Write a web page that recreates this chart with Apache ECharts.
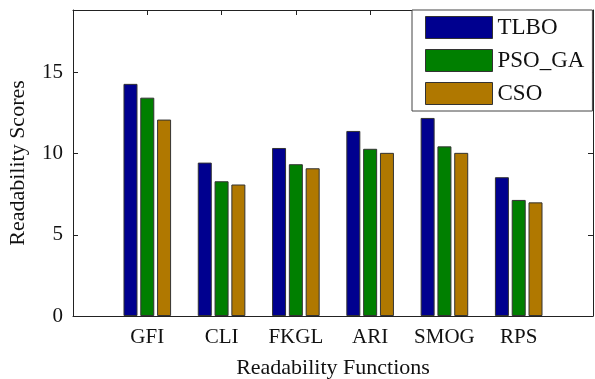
<!DOCTYPE html>
<html>
<head>
<meta charset="utf-8">
<script src="https://cdn.jsdelivr.net/npm/echarts@6/dist/echarts.min.js"></script>
<style>
  html, body { margin: 0; padding: 0; background: #fff; }
  #chart { width: 595px; height: 379px; }
</style>
</head>
<body>
<div id="chart"></div>
<script>
const categories = ['GFI', 'CLI', 'FKGL', 'ARI', 'SMOG', 'RPS']
const tlbo = [14.3, 9.45, 10.35, 11.4, 12.2, 8.55]
const psoGa = [13.45, 8.3, 9.35, 10.3, 10.45, 7.15]
const cso = [12.1, 8.1, 9.1, 10.05, 10.05, 7.0]
const yTicks = [0, 5, 10, 15]

// pad with empty slots so the axis runs from 0 to 7 like the original
const xData = [''].concat(categories, [''])
const pad = arr => [null].concat(arr, [null])

const font = 'Liberation Serif'
const axisColor = '#222'

const myChart = echarts.init(document.getElementById('chart'))

const barBase = {
    type: 'bar',
    barWidth: 14,
    barGap: '20%',
    itemStyle: { borderColor: '#333', borderWidth: 1 },
    animation: false
}

const xTick = {
    show: true,
    inside: true,
    length: 5,
    interval: (i) => i > 0 && i < xData.length - 1,
    lineStyle: { color: axisColor }
}
const yTick = { show: true, inside: true, length: 5, lineStyle: { color: axisColor } }

const option = {
    backgroundColor: '#fff',
    textStyle: { fontFamily: font },
    grid: { left: 73, top: 10, right: 2, bottom: 63, containLabel: false, outerBoundsMode: 'none' },
    legend: {
        orient: 'vertical',
        left: 412,
        top: 10,
        padding: [6, 8, 6, 13],
        itemWidth: 67,
        itemHeight: 22,
        itemGap: 10,
        icon: 'rect',
        borderColor: '#444',
        borderWidth: 1,
        borderRadius: 0,
        backgroundColor: '#fff',
        textStyle: { fontFamily: font, fontSize: 23, color: '#111' },
        itemStyle: { borderColor: '#333', borderWidth: 1 },
        data: ['TLBO', 'PSO_GA', 'CSO']
    },
    xAxis: [
        {
            type: 'category',
            data: xData,
            boundaryGap: false,
            axisLine: { onZero: false, lineStyle: { color: axisColor } },
            axisTick: xTick,
            axisLabel: { interval: 0, fontFamily: font, fontSize: 21, color: '#111', margin: 11 },
            name: 'Readability Functions',
            nameLocation: 'middle',
            nameGap: 41,
            nameTextStyle: { fontFamily: font, fontSize: 22, color: '#111' }
        },
        {
            type: 'category',
            data: xData,
            boundaryGap: false,
            position: 'top',
            axisLine: { onZero: false, lineStyle: { color: axisColor } },
            axisTick: xTick,
            axisLabel: { show: false }
        }
    ],
    yAxis: [
        {
            type: 'value',
            min: 0,
            max: 18.85,
            interval: 5,
            splitLine: { show: false },
            axisLine: { show: true, onZero: false, lineStyle: { color: axisColor } },
            axisTick: yTick,
            axisLabel: {
                fontFamily: font, fontSize: 21, color: '#111', margin: 10,
                showMaxLabel: false,
                formatter: v => (yTicks.indexOf(v) >= 0 ? String(v) : '')
            },
            name: 'Readability Scores',
            nameLocation: 'middle',
            nameGap: 44,
            nameTextStyle: { fontFamily: font, fontSize: 22, color: '#111' }
        },
        {
            type: 'value',
            min: 0,
            max: 18.85,
            interval: 5,
            position: 'right',
            splitLine: { show: false },
            axisLine: { show: true, onZero: false, lineStyle: { color: axisColor } },
            axisTick: yTick,
            axisLabel: { show: false }
        }
    ],
    series: [
        Object.assign({}, barBase, { name: 'TLBO', data: pad(tlbo), itemStyle: Object.assign({}, barBase.itemStyle, { color: '#00008F' }) }),
        Object.assign({}, barBase, { name: 'PSO_GA', data: pad(psoGa), itemStyle: Object.assign({}, barBase.itemStyle, { color: '#007F00' }) }),
        Object.assign({}, barBase, { name: 'CSO', data: pad(cso), itemStyle: Object.assign({}, barBase.itemStyle, { color: '#B07800' }) })
    ]
}

myChart.setOption(option)
</script>
</body>
</html>
